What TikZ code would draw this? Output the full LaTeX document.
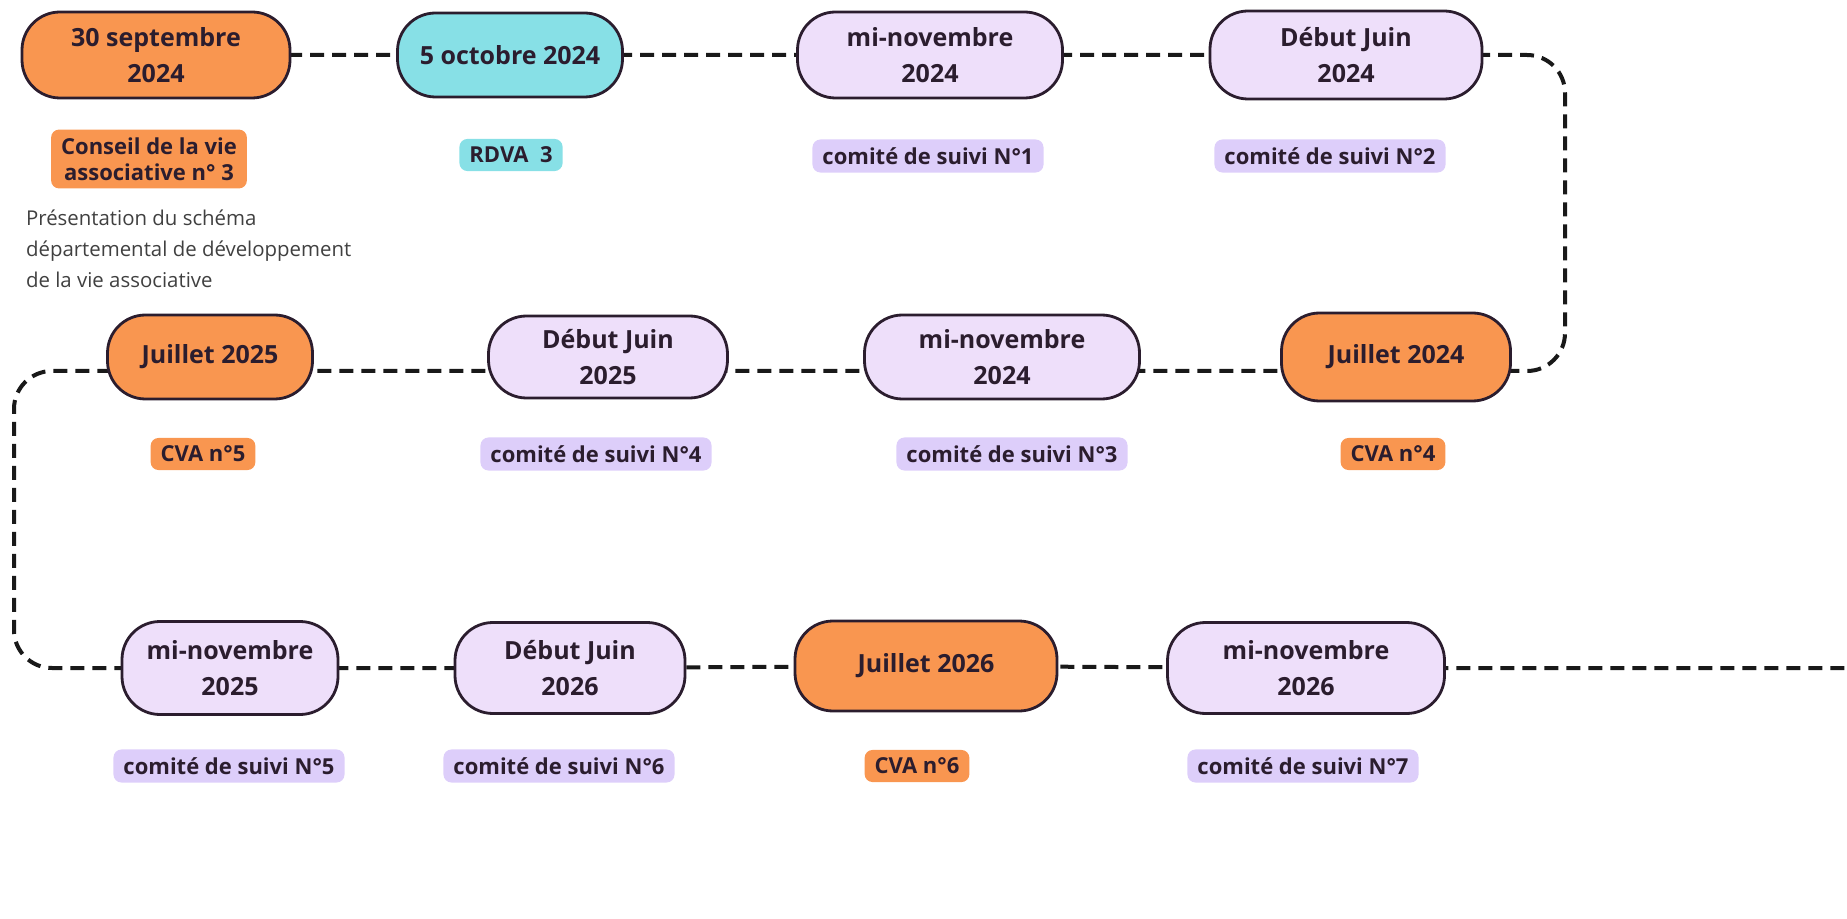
\documentclass[tikz,border=0pt]{standalone}
\usepackage{fontspec}
\setmainfont{Open Sans}
\usetikzlibrary{backgrounds}

\definecolor{orangecva}{HTML}{F99650}
\definecolor{cyanrdva}{HTML}{87E0E6}
\definecolor{lavbox}{HTML}{EEDFFA}
\definecolor{lavtag}{HTML}{DDCEFA}
\definecolor{ink}{HTML}{2B1D2E}

\tikzset{
	datebox/.style={draw=ink,line width=1.4pt,rounded corners=19pt,align=center,text=ink,
		font=\fontsize{12.5}{18}\selectfont\bfseries,inner sep=0pt},
	tag/.style={rounded corners=4pt,align=center,text=ink,
		font=\fontsize{11}{13}\selectfont\bfseries,inner xsep=5pt,inner ysep=4pt,minimum height=16pt},
	link/.style={draw=black!90,line width=2pt,dash pattern=on 7pt off 4pt,rounded corners=19pt}
}

\begin{document}
\begin{tikzpicture}[x=0.5pt,y=-0.5pt]
		\useasboundingbox (0,0) rectangle (1847,919);
		% date boxes
		\node[datebox,fill=orangecva,minimum width=134pt,minimum height=43pt] (t1) at (156,55) {30 septembre\\2024};
		\node[datebox,fill=cyanrdva,minimum width=112.5pt,minimum height=42pt] (t2) at (510,55) {5 octobre 2024};
		\node[datebox,fill=lavbox,minimum width=132.5pt,minimum height=43pt] (t3) at (930,55) {mi-novembre\\2024};
		\node[datebox,fill=lavbox,minimum width=136pt,minimum height=44pt] (t4) at (1346,55) {Début Juin\\2024};
		\node[datebox,fill=orangecva,minimum width=114.5pt,minimum height=44pt] (t5) at (1396,357) {Juillet 2024};
		\node[datebox,fill=lavbox,minimum width=137.5pt,minimum height=42pt] (t6) at (1002,357) {mi-novembre\\2024};
		\node[datebox,fill=lavbox,minimum width=119.5pt,minimum height=41pt] (t7) at (608,357) {Début Juin\\2025};
		\node[datebox,fill=orangecva,minimum width=102.5pt,minimum height=42pt] (t8) at (210,357) {Juillet 2025};
		\node[datebox,fill=lavbox,minimum width=108pt,minimum height=46.5pt] (t9) at (230,668) {mi-novembre\\2025};
		\node[datebox,fill=lavbox,minimum width=115pt,minimum height=45.5pt] (t10) at (570,668) {Début Juin\\2026};
		\node[datebox,fill=orangecva,minimum width=131pt,minimum height=45pt] (t11) at (926,666) {Juillet 2026};
		\node[datebox,fill=lavbox,minimum width=138.5pt,minimum height=45.5pt] (t12) at (1306,668) {mi-novembre\\2026};
		% tags under the boxes
		\node[tag,fill=orangecva] (l1) at (149,159) {Conseil de la vie\\associative n° 3};
		\node[tag,fill=cyanrdva] (l2) at (511,155) {RDVA\ \ 3};
		\node[tag,fill=lavtag] (l3) at (928,156) {comité de suivi N°1};
		\node[tag,fill=lavtag] (l4) at (1330,156) {comité de suivi N°2};
		\node[tag,fill=orangecva] (l5) at (1393,454) {CVA n°4};
		\node[tag,fill=lavtag] (l6) at (1012,454) {comité de suivi N°3};
		\node[tag,fill=lavtag] (l7) at (596,454) {comité de suivi N°4};
		\node[tag,fill=orangecva] (l8) at (203,454) {CVA n°5};
		\node[tag,fill=lavtag] (l9) at (229,766) {comité de suivi N°5};
		\node[tag,fill=lavtag] (l10) at (559,766) {comité de suivi N°6};
		\node[tag,fill=orangecva] (l11) at (917,766) {CVA n°6};
		\node[tag,fill=lavtag] (l12) at (1303,766) {comité de suivi N°7};
		\node[anchor=north west,align=left,text=black!75,font=\fontsize{10.2}{15.5}\selectfont] (desc) at (19,203)
			{Présentation du schéma\\départemental de développement\\de la vie associative};
		\coordinate (rbend) at (1565,200);
		\coordinate (lbend) at (14,520);
		\coordinate (tail) at (1847,668);
		\begin{scope}[on background layer]
			\draw[link] (t1.center) -- (t2.center) -- (t3.center) -- (t4.center) -| (rbend)
				|- ([yshift=-7pt]t5.center) -- ([yshift=-7pt]t6.center) -- ([yshift=-7pt]t7.center)
				-- ([yshift=-7pt]t8.center) -| (lbend) |- (t9.center) -- (t10.center) -- (t11.center)
				-- (t12.center) -- (tail);
		\end{scope}
	\end{tikzpicture}
\end{document}
